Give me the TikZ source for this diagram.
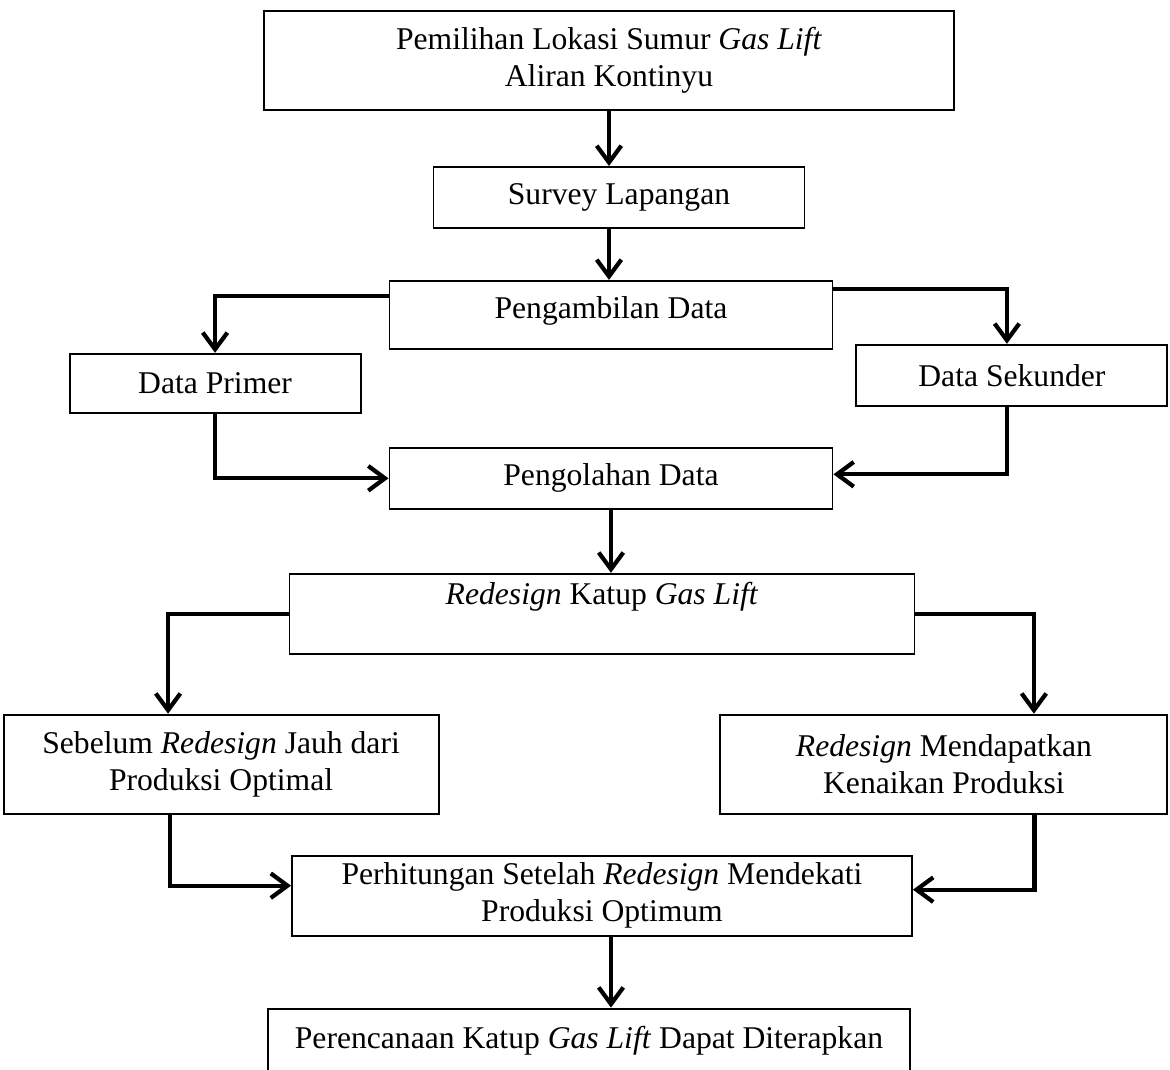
\documentclass[tikz,border=0pt]{standalone}
\usepackage{fontspec}
\setmainfont{Liberation Serif}
\usetikzlibrary{
        arrows.meta,
        positioning
    }
\tikzset{>={Straight Barb[length=9.5pt,width=14pt]},auto,node distance=1cm}
\tikzset{box/.style={draw,line width=1.1pt,align=center,inner sep=2pt,
        font=\fontsize{18}{21}\selectfont}}
\tikzset{flow/.style={->,line width=2.4pt}}

\begin{document}
\begin{tikzpicture}
                \useasboundingbox (0,0) rectangle (23.4,-21.38);
                \clip (0,0) rectangle (23.4,-21.38);
                % boxes
                \node[box,minimum width=13.8cm,minimum height=1.98cm] (pilih) at (12.18,-1.21)
                    {Pemilihan Lokasi Sumur \textit{Gas Lift}\\Aliran Kontinyu};
                \node[box,minimum width=7.42cm,minimum height=1.22cm] (survey) [below=1.1cm of pilih,xshift=0.2cm]
                    {Survey Lapangan};
                \node[box,minimum width=8.86cm,minimum height=1.36cm,text height=12pt,text depth=8pt] (ambil)
                    [below=1.02cm of survey,xshift=-0.16cm]
                    {Pengambilan Data};
                \node[box,minimum width=5.82cm,minimum height=1.18cm] (primer) [below left=0.06cm and 0.54cm of ambil]
                    {Data Primer};
                \node[box,minimum width=6.22cm,minimum height=1.22cm] (sekunder) [below right=-0.12cm and 0.44cm of ambil]
                    {Data Sekunder};
                \node[box,minimum width=8.86cm,minimum height=1.22cm] (olah) [below=1.94cm of ambil]
                    {Pengolahan Data};
                \node[box,minimum width=12.5cm,minimum height=1.6cm,text height=12pt,text depth=22pt] (redes)
                    [below=1.26cm of olah,xshift=-0.18cm]
                    {\textit{Redesign} Katup \textit{Gas Lift}};
                \node[box,minimum width=8.7cm,minimum height=1.98cm] (sebelum) [below left=1.18cm and -3.02cm of redes]
                    {Sebelum \textit{Redesign} Jauh dari\\Produksi Optimal};
                \node[box,minimum width=8.94cm,minimum height=1.98cm] (naik) [below right=1.18cm and -3.92cm of redes]
                    {\textit{Redesign} Mendapatkan\\Kenaikan Produksi};
                \node[box,minimum width=12.4cm,minimum height=1.6cm] (hitung) [below=4cm of redes]
                    {Perhitungan Setelah \textit{Redesign} Mendekati\\Produksi Optimum};
                \node[box,minimum width=12.84cm,minimum height=1.66cm,text height=12pt,text depth=13.4pt] (rencana)
                    [below=1.42cm of hitung,xshift=-0.26cm]
                    {Perencanaan Katup \textit{Gas Lift} Dapat Diterapkan};
                % arrows
                \draw[flow] (pilih.south) -- (pilih.south |- survey.north);
                \draw[flow] (survey.south -| pilih.south) -- (ambil.north -| pilih.south);
                \draw[flow] ([yshift=0.38cm]ambil.west) -| (primer.north);
                \draw[flow] ([yshift=0.52cm]ambil.east) -| ([xshift=-0.1cm]sekunder.north);
                \draw[flow] (primer.south) |- (olah.west);
                \draw[flow] ([xshift=-0.1cm]sekunder.south) |- ([yshift=0.08cm]olah.east);
                \draw[flow] (olah.south) -- (olah.south |- redes.north);
                \draw[flow] (redes.west) -| ([xshift=-1.06cm]sebelum.north);
                \draw[flow] (redes.east) -| ([xshift=1.8cm]naik.north);
                \draw[flow] ([xshift=-1.02cm]sebelum.south) |- ([yshift=0.2cm]hitung.west);
                \draw[flow] ([xshift=1.81cm]naik.south) |- ([yshift=0.12cm]hitung.east);
                \draw[flow] ([xshift=0.18cm]hitung.south) -- ([xshift=0.18cm]hitung.south |- rencana.north);
            \end{tikzpicture}
\end{document}
